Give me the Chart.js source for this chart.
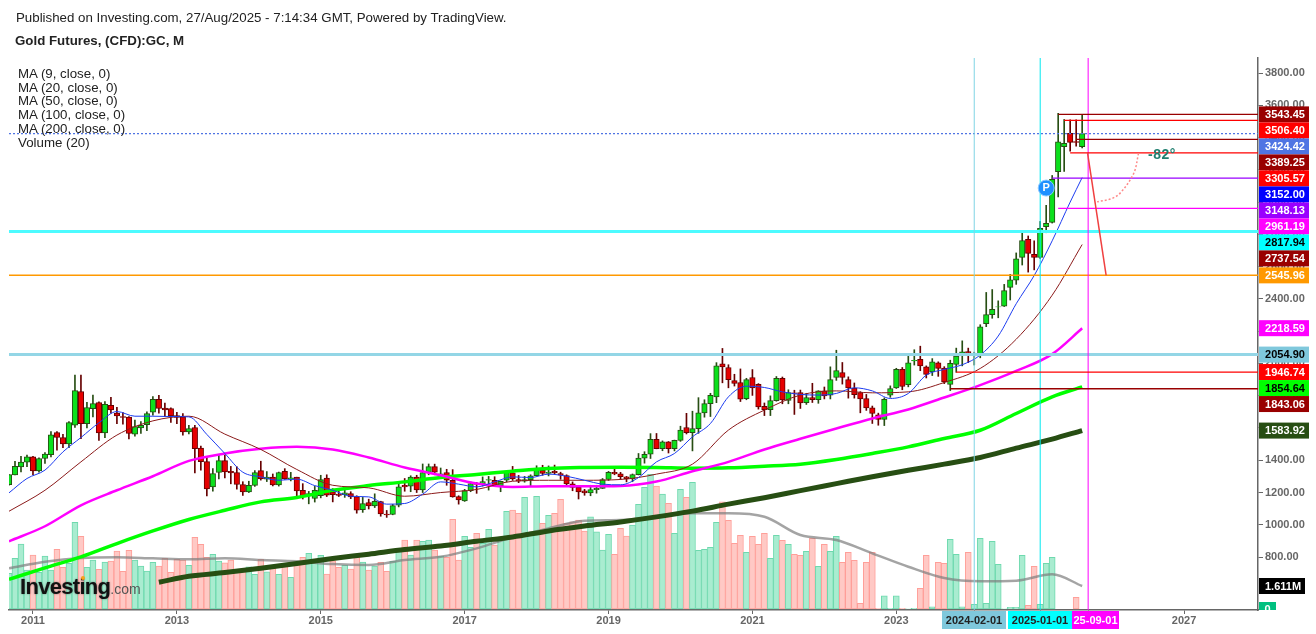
<!DOCTYPE html>
<html>
<head>
<meta charset="utf-8">
<title>Gold Futures</title>
<script src="https://cdn.jsdelivr.net/npm/chart.js@4"></script>
<style>
  body { margin: 0; background: #fff; font-family: "Liberation Sans", Arial, sans-serif; color: #222; }
  #wrap { position: relative; width: 1316px; height: 634px; overflow: hidden; }
  canvas { position: absolute; left: 0; top: 0; }
  .txt { position: absolute; white-space: nowrap; }
  #published { left: 16px; top: 10px; font-size: 13.3px; }
  #title { left: 15px; top: 33px; font-size: 13.3px; font-weight: bold; }
  .legend { left: 18px; font-size: 13.3px; line-height: 14px; }
  #logo { left: 20px; top: 574px; font-size: 22px; font-weight: bold; color: #111; letter-spacing: -0.7px; text-shadow: 0 0 2px rgba(0,0,0,0.45); }
  #logo span { font-size: 14px; font-weight: normal; color: #555; letter-spacing: 0; text-shadow: none; }
  #logo-dot { left: 81px; top: 576px; width: 4px; height: 4px; border-radius: 2px; background: #f7a21b; }
</style>
</head>
<body>
<div id="wrap">
  <canvas id="chart" width="1316" height="634"></canvas>
  <div class="txt" id="published">Published on Investing.com, 27/Aug/2025 - 7:14:34 GMT, Powered by TradingView.</div>
  <div class="txt" id="title">Gold Futures, (CFD):GC, M</div>
  <div class="txt legend" style="top:67px">MA (9, close, 0)</div>
  <div class="txt legend" style="top:81px">MA (20, close, 0)</div>
  <div class="txt legend" style="top:94px">MA (50, close, 0)</div>
  <div class="txt legend" style="top:108px">MA (100, close, 0)</div>
  <div class="txt legend" style="top:122px">MA (200, close, 0)</div>
  <div class="txt legend" style="top:136px">Volume (20)</div>
  <div class="txt" id="logo">Investing<span>.com</span></div>
  <div class="txt" id="logo-dot"></div>
</div>
<script>
// month index: 0 = 2011-01, one step = one month. first candle is 2010-09
const firstMonth = -4;

const opens = [
  1249, 1309, 1359, 1388, 1421, 1334, 1411, 1435, 1572, 1541, 1502, 1617,
  1826, 1626, 1719, 1758, 1570, 1740, 1692, 1671, 1667, 1561, 1601, 1621,
  1698, 1777, 1723, 1721, 1677, 1669, 1576, 1603, 1476, 1392, 1235, 1324,
  1398, 1332, 1324, 1250, 1204, 1244, 1336, 1283, 1295, 1247, 1332, 1285,
  1295, 1214, 1179, 1163, 1181, 1289, 1204, 1190, 1186, 1194, 1175, 1094,
  1138, 1117, 1144, 1066, 1064, 1121, 1244, 1239, 1295, 1216, 1324, 1361,
  1310, 1324, 1276, 1175, 1148, 1212, 1255, 1255, 1276, 1276, 1242, 1276,
  1322, 1280, 1271, 1280, 1305, 1338, 1318, 1332, 1318, 1305, 1254, 1232,
  1210, 1198, 1218, 1226, 1281, 1325, 1316, 1298, 1285, 1311, 1413, 1437,
  1529, 1472, 1514, 1472, 1523, 1603, 1571, 1596, 1694, 1751, 1793, 1998,
  1975, 1894, 1882, 1781, 1913, 1870, 1735, 1714, 1770, 1907, 1771, 1818,
  1820, 1757, 1789, 1776, 1830, 1804, 1913, 1944, 1900, 1848, 1820, 1783,
  1725, 1682, 1653, 1803, 1849, 1963, 1868, 2015, 2025, 1979, 1948, 2004,
  1971, 1870, 1994, 2050, 2074, 2052, 2055, 2247, 2303, 2350, 2355, 2471,
  2516, 2657, 2769, 2677, 2657, 2847, 2874, 3188, 3343, 3426, 3375, 3343
];
const highs = [
  1311, 1394, 1424, 1432, 1425, 1415, 1447, 1577, 1577, 1560, 1640, 1928,
  1928, 1759, 1804, 1762, 1764, 1790, 1728, 1695, 1670, 1649, 1640, 1700,
  1795, 1802, 1755, 1725, 1697, 1690, 1616, 1617, 1488, 1424, 1348, 1434,
  1434, 1362, 1360, 1267, 1270, 1336, 1394, 1330, 1315, 1327, 1348, 1325,
  1295, 1255, 1207, 1238, 1307, 1310, 1224, 1224, 1232, 1205, 1180, 1170,
  1159, 1192, 1146, 1089, 1127, 1263, 1287, 1304, 1307, 1377, 1377, 1376,
  1352, 1344, 1342, 1180, 1220, 1265, 1263, 1297, 1300, 1298, 1271, 1331,
  1362, 1306, 1300, 1310, 1366, 1369, 1365, 1370, 1326, 1310, 1266, 1237,
  1220, 1245, 1245, 1287, 1331, 1349, 1325, 1300, 1315, 1442, 1453, 1565,
  1566, 1520, 1516, 1525, 1611, 1691, 1704, 1788, 1775, 1815, 2005, 2093,
  1992, 1933, 1966, 1908, 1962, 1875, 1755, 1799, 1919, 1916, 1837, 1834,
  1835, 1815, 1877, 1831, 1854, 1979, 2082, 2006, 1917, 1879, 1825, 1808,
  1736, 1692, 1787, 1861, 1970, 1975, 2052, 2085, 2107, 1985, 2030, 2010,
  1980, 2020, 2095, 2140, 2095, 2070, 2240, 2440, 2458, 2388, 2490, 2552,
  2685, 2817, 2790, 2760, 2880, 2980, 3165, 3550, 3512, 3510, 3510, 3540
];
const lows = [
  1245, 1309, 1327, 1360, 1310, 1326, 1381, 1420, 1462, 1478, 1478, 1604,
  1534, 1600, 1668, 1523, 1540, 1692, 1627, 1624, 1532, 1549, 1566, 1584,
  1680, 1692, 1670, 1635, 1627, 1555, 1563, 1321, 1338, 1179, 1208, 1284,
  1291, 1254, 1221, 1182, 1200, 1238, 1277, 1268, 1241, 1240, 1282, 1272,
  1180, 1160, 1130, 1141, 1167, 1175, 1142, 1175, 1170, 1162, 1072, 1077,
  1098, 1107, 1053, 1046, 1062, 1111, 1208, 1205, 1200, 1200, 1310, 1310,
  1305, 1245, 1171, 1128, 1145, 1205, 1195, 1240, 1215, 1238, 1205, 1267,
  1275, 1261, 1264, 1238, 1303, 1307, 1303, 1316, 1282, 1238, 1211, 1160,
  1183, 1180, 1196, 1225, 1275, 1310, 1281, 1266, 1267, 1309, 1382, 1411,
  1471, 1459, 1445, 1458, 1517, 1563, 1458, 1567, 1667, 1671, 1757, 1880,
  1849, 1860, 1764, 1775, 1802, 1717, 1677, 1677, 1766, 1750, 1750, 1684,
  1721, 1746, 1758, 1753, 1780, 1780, 1895, 1872, 1785, 1785, 1694, 1709,
  1628, 1617, 1615, 1790, 1845, 1837, 1855, 1990, 1955, 1910, 1925, 1920,
  1875, 1832, 1945, 1985, 2005, 1990, 2035, 2228, 2280, 2283, 2353, 2393,
  2490, 2610, 2566, 2580, 2650, 2810, 2870, 3032, 3190, 3315, 3347, 3335
];
const closes = [
  1311, 1363, 1388, 1421, 1334, 1411, 1439, 1557, 1541, 1502, 1634, 1832,
  1626, 1727, 1752, 1570, 1746, 1712, 1675, 1665, 1566, 1609, 1617, 1690,
  1777, 1721, 1712, 1675, 1665, 1576, 1597, 1472, 1392, 1223, 1318, 1398,
  1328, 1322, 1250, 1204, 1245, 1324, 1285, 1296, 1247, 1324, 1285, 1291,
  1210, 1181, 1194, 1214, 1280, 1183, 1186, 1182, 1198, 1173, 1090, 1132,
  1117, 1146, 1068, 1062, 1119, 1235, 1235, 1295, 1216, 1324, 1361, 1326,
  1316, 1276, 1173, 1154, 1212, 1256, 1251, 1268, 1280, 1241, 1269, 1328,
  1284, 1271, 1280, 1303, 1345, 1318, 1327, 1322, 1308, 1254, 1232, 1204,
  1198, 1218, 1226, 1281, 1325, 1316, 1298, 1285, 1311, 1413, 1437, 1529,
  1472, 1514, 1472, 1523, 1587, 1571, 1596, 1694, 1751, 1803, 1986, 1978,
  1900, 1876, 1779, 1900, 1849, 1731, 1714, 1770, 1907, 1774, 1820, 1815,
  1756, 1789, 1776, 1830, 1799, 1900, 1956, 1913, 1848, 1807, 1780, 1725,
  1690, 1653, 1777, 1845, 1963, 1857, 2004, 2020, 1985, 1932, 2010, 1969,
  1886, 2000, 2045, 2072, 2062, 2057, 2227, 2303, 2335, 2351, 2452, 2518,
  2649, 2762, 2682, 2657, 2837, 2868, 3141, 3374, 3364, 3370, 3370, 3424
];
// volume in millions
const volumes = [
  2.50, 3.55, 4.55, 2.73, 3.78, 2.57, 3.71, 2.73, 4.18, 2.92, 3.20, 6.07,
  5.09, 2.92, 3.43, 2.78, 3.29, 3.36, 4.06, 2.64, 4.11, 3.43, 3.01, 2.66,
  3.27, 3.01, 3.55, 2.57, 3.48, 3.43, 3.06, 5.02, 4.53, 3.62, 3.83, 3.36,
  3.24, 3.43, 2.66, 2.73, 2.96, 2.43, 3.48, 2.61, 2.85, 2.43, 3.01, 2.22,
  3.08, 3.62, 3.90, 3.43, 3.76, 2.45, 3.38, 2.92, 3.06, 2.80, 3.62, 3.29,
  2.73, 3.01, 3.27, 2.64, 3.34, 4.25, 4.83, 3.78, 4.83, 4.74, 4.83, 4.13,
  3.71, 3.62, 6.28, 3.43, 5.09, 4.32, 5.30, 4.60, 5.58, 4.48, 4.83, 6.84,
  6.93, 6.70, 7.82, 5.18, 7.89, 6.00, 6.56, 6.70, 7.68, 6.00, 6.11, 6.23,
  5.46, 6.46, 5.41, 4.13, 5.23, 3.83, 5.65, 5.11, 5.88, 7.33, 8.52, 9.43,
  8.61, 8.05, 7.40, 5.30, 8.38, 7.82, 8.87, 4.11, 4.18, 4.32, 6.07, 7.51,
  6.21, 4.60, 5.16, 3.97, 5.09, 4.53, 5.30, 3.55, 5.16, 4.81, 4.53, 3.83,
  3.76, 4.04, 4.95, 2.99, 4.53, 4.04, 5.09, 3.27, 3.97, 3.41, 0.40, 3.27,
  3.97, 0.05, 0.93, 0.05, 0.93, 0.05, 0.02, 0.05, 1.45, 3.76, 0.16, 3.27,
  3.20, 4.88, 3.83, 0.16, 3.97, 0.33, 4.95, 0.40, 4.74, 3.13, 0.02, 0.12,
  0.12, 3.76, 0.26, 2.99, 0.33, 3.20, 3.62, 0, 0, 0, 0.82, 0
];

const fastMonths = [-4, -1, 2, 5, 8, 11, 14, 17, 20, 23, 26, 29, 32, 35, 38, 41, 44, 47, 50, 53, 56, 59, 62, 65, 68, 71, 74, 77, 80, 83, 86, 89, 92, 95, 98, 101, 104, 107, 110, 113, 116, 119, 122, 125, 128, 131, 134, 137, 140, 143, 146, 149, 152, 155, 158, 161, 164, 167, 170, 173, 175];
const ma9 = [1198, 1287, 1339, 1452, 1541, 1632, 1702, 1673, 1673, 1671, 1669, 1560, 1442, 1326, 1297, 1276, 1283, 1243, 1214, 1177, 1173, 1128, 1132, 1190, 1266, 1252, 1235, 1266, 1297, 1293, 1314, 1301, 1276, 1252, 1248, 1293, 1390, 1442, 1545, 1628, 1793, 1859, 1851, 1824, 1808, 1804, 1814, 1849, 1830, 1783, 1814, 1928, 1963, 1992, 2052, 2170, 2370, 2545, 2760, 3000, 3152];

const slowMonths = [-4, 2, 8, 14, 20, 26, 32, 38, 44, 50, 56, 62, 68, 74, 80, 86, 92, 98, 104, 110, 116, 122, 128, 134, 140, 146, 152, 158, 164, 170, 175];
const ma20 = [1084, 1214, 1390, 1556, 1644, 1673, 1562, 1467, 1343, 1245, 1229, 1177, 1200, 1219, 1270, 1276, 1276, 1281, 1314, 1376, 1587, 1711, 1804, 1830, 1818, 1824, 1882, 1969, 2150, 2423, 2737];
const ma50 = [898, 991, 1121, 1214, 1301, 1396, 1442, 1471, 1483, 1467, 1417, 1355, 1307, 1256, 1235, 1239, 1239, 1241, 1268, 1332, 1390, 1467, 1533, 1597, 1659, 1715, 1789, 1866, 1954, 2058, 2218];
const ma100 = [662, 733, 801, 884, 962, 1033, 1090, 1142, 1169, 1214, 1243, 1266, 1293, 1312, 1332, 1349, 1355, 1357, 1355, 1351, 1353, 1363, 1376, 1405, 1442, 1483, 1535, 1586, 1690, 1793, 1855];
const volumeMa = [2.85, 3.31, 3.57, 3.62, 3.55, 3.48, 3.55, 3.43, 3.34, 3.15, 3.08, 3.43, 3.66, 4.25, 5.02, 5.65, 6.18, 6.23, 6.46, 6.70, 6.70, 6.46, 5.18, 4.83, 3.90, 2.96, 2.17, 1.94, 1.98, 2.43, 1.61];

const ma200Months = [21, 26, 32, 38, 44, 50, 56, 62, 68, 74, 80, 86, 92, 98, 104, 110, 116, 122, 128, 134, 140, 146, 152, 158, 164, 170, 175];
const ma200 = [644, 681, 704, 731, 760, 791, 818, 847, 869, 898, 925, 962, 992, 1018, 1049, 1085, 1128, 1168, 1212, 1255, 1298, 1338, 1376, 1417, 1475, 1531, 1584];

const priceTicks = [800, 1000, 1200, 1400, 1600, 1800, 2000, 2200, 2400, 2600, 2800, 3000, 3200, 3400, 3600, 3800];
const yearMonths = [0, 24, 48, 72, 96, 120, 144, 192];
const yearLabels = ["2011", "2013", "2015", "2017", "2019", "2021", "2023", "2027"];
const dateMonths = [157, 168, 176];
const dateLabels = ["2024-02-01", "2025-01-01", "25-09-01"];

const tagValues = [3543.45, 3506.4, 3424.42, 3389.25, 3305.57, 3152.0, 3148.13, 2961.19, 2817.94, 2737.54, 2545.96, 2218.59, 2054.9, 1946.74, 1854.64, 1843.06, 1583.92];

// horizontal drawings: level and the month they start from
const fullLevels = [2817.94, 2545.96, 2054.9];
const shortLevels = [3543.45, 3506.4, 3389.25, 3305.57, 3148.13, 2961.19, 1946.74, 1843.06];
const shortStarts = [171, 172, 174, 173, 170, 171, 154, 153];

const trendMonths = [175.9, 179];
const trendValues = [3305.57, 2545.96];
const arcMonths = [184.4, 183.6, 181.3, 179.7, 177.5];
const arcValues = [3302, 3178, 3054, 3019, 3002];

const minMonth = -4;
const maxMonth = 204.33;
const minPrice = 472;
const maxPrice = 3893;

const tagColors = ["#990000", "#ff0000", "#4f74e3", "#990000", "#ff0000", "#0000ff", "#9900ff", "#ff00ff", "#00ffff", "#990000", "#ff9900", "#ff00ff", "#7fc8dc", "#ff0000", "#00ff00", "#990000", "#274e13"];
const tagTextColors = ["#fff", "#fff", "#fff", "#fff", "#fff", "#fff", "#fff", "#fff", "#000", "#fff", "#fff", "#fff", "#000", "#fff", "#000", "#fff", "#fff"];
const shortColors = ["#990000", "#ff0000", "#990000", "#ff0000", "#9900ff", "#ff00ff", "#ff0000", "#990000"];
const dateColors = ["#7fc8dc", "#00ffff", "#ff00ff"];
const dateTextColors = ["#222", "#222", "#fff"];

const monthOf = (i) => firstMonth + i;
const isUp = (i) => closes[i] >= opens[i];
const pairs = (xs, ys) => xs.map((x, i) => ({ x: x, y: ys[i] }));

function line(xs, ys, color, width, order, extra) {
  return Object.assign({
    type: "line",
    data: pairs(xs, ys),
    borderColor: color,
    borderWidth: width,
    pointRadius: 0,
    order: order,
  }, extra || {});
}

function maLine(xs, ys, color, width, order, yAxisID) {
  return line(xs, ys, color, width, order, {
    cubicInterpolationMode: "monotone",
    yAxisID: yAxisID || "y",
  });
}

const datasets = [
  // volume pane
  {
    yAxisID: "vol",
    data: volumes.map((v, i) => ({ x: monthOf(i), y: v })),
    backgroundColor: volumes.map((v, i) => (isUp(i) ? "#a9ecd0" : "#ffc9c5")),
    borderColor: volumes.map((v, i) => (isUp(i) ? "#6ed9ae" : "#ff9f99")),
    borderWidth: 1,
    borderSkipped: false,
    barThickness: 6,
    order: 20,
  },
  maLine(slowMonths, volumeMa, "rgba(125,125,125,0.7)", 2.5, 19, "vol"),
  // candles, wick first then body
  {
    data: highs.map((h, i) => ({ x: monthOf(i), y: [lows[i], h] })),
    backgroundColor: highs.map((h, i) => (isUp(i) ? "#274e13" : "#660000")),
    barThickness: 1,
    order: 18,
  },
  {
    data: opens.map((o, i) => ({ x: monthOf(i), y: [o, closes[i]] })),
    backgroundColor: opens.map((o, i) => (isUp(i) ? "#0be01c" : "#e60000")),
    borderColor: opens.map((o, i) => (isUp(i) ? "#274e13" : "#660000")),
    borderWidth: 1,
    borderSkipped: false,
    barThickness: 5.5,
    order: 17,
  },
  maLine(ma200Months, ma200, "#274e13", 5, 16),
  maLine(slowMonths, ma100, "#00ff00", 3.5, 15),
  maLine(slowMonths, ma50, "#ff00ff", 2.5, 14),
  maLine(slowMonths, ma20, "#8b1a1a", 1, 13),
  maLine(fastMonths, ma9, "#1c3cf0", 1, 12),
  // drawings
  line([minMonth, maxMonth], [fullLevels[0], fullLevels[0]], "#4dfbff", 3, 11),
  line([minMonth, maxMonth], [fullLevels[1], fullLevels[1]], "#ff9900", 1.5, 11),
  line([minMonth, maxMonth], [fullLevels[2], fullLevels[2]], "#93d6e6", 3, 11),
  line([minMonth, maxMonth], [tagValues[2], tagValues[2]], "#4f74e3", 1.2, 11, { borderDash: [2, 2] }),
  line([dateMonths[0], dateMonths[0]], [minPrice, maxPrice], "#7fd4e4", 1, 10),
  line([dateMonths[1], dateMonths[1]], [minPrice, maxPrice], "#00e8f0", 1, 10),
  line([dateMonths[2], dateMonths[2]], [minPrice, maxPrice], "#ff00ff", 1, 10),
  line(trendMonths, trendValues, "#f04040", 1.5, 3),
  line(arcMonths, arcValues, "#ff8a8a", 1.5, 3, { borderDash: [2, 2], tension: 0.35 }),
  { // the "P" mark
    type: "line",
    data: [{ x: 169, y: 3087 }],
    showLine: false,
    pointRadius: 8,
    pointBackgroundColor: "#1e90ff",
    pointBorderColor: "#8cc8ff",
    pointBorderWidth: 1,
    order: 1,
  },
];

shortLevels.forEach((level, i) => {
  datasets.push(line([shortStarts[i], maxMonth], [level, level], shortColors[i], 1.3, 4));
});

// price tags, date tags and the small texts on the plot
const tagsPlugin = {
  id: "tags",
  afterDraw(chart) {
    const ctx = chart.ctx;
    const y = chart.scales.y;
    const x = chart.scales.x;
    const area = chart.chartArea;
    const left = area.right + 1;

    ctx.save();
    ctx.textBaseline = "middle";

    ctx.font = "bold 14px 'Liberation Sans'";
    ctx.letterSpacing = "0.5px";
    ctx.fillStyle = "#1f7f6f";
    ctx.textAlign = "left";
    ctx.fillText("-82°", x.getPixelForValue(186), y.getPixelForValue(3294));
    ctx.letterSpacing = "0px";

    ctx.font = "bold 11px 'Liberation Sans'";
    ctx.fillStyle = "#fff";
    ctx.textAlign = "center";
    ctx.fillText("P", x.getPixelForValue(169), y.getPixelForValue(3087));

    // tags get pushed down when they would overlap
    let prev = -100;
    tagValues.forEach((value, i) => {
      const py = Math.max(y.getPixelForValue(value), prev + 16);
      prev = py;
      ctx.fillStyle = tagColors[i];
      ctx.fillRect(left, py - 8, 50, 16);
      ctx.fillStyle = tagTextColors[i];
      ctx.fillText(value.toFixed(2), left + 26, py + 0.5);
    });

    const volY = chart.scales.vol;
    const maPy = volY.getPixelForValue(1.611);
    ctx.fillStyle = "#000";
    ctx.fillRect(left, maPy - 8, 46, 16);
    ctx.fillStyle = "#fff";
    ctx.fillText("1.611M", left + 24, maPy + 0.5);

    ctx.save();
    ctx.beginPath();
    ctx.rect(left, area.top, 60, area.bottom - area.top);
    ctx.clip();
    ctx.fillStyle = "#00c07f";
    ctx.fillRect(left, area.bottom - 8, 17, 16);
    ctx.fillStyle = "#fff";
    ctx.fillText("0", left + 8.5, area.bottom);
    ctx.restore();

    const dateWidths = [64, 64, 47];
    const dateLefts = [942, 1008, 1072];
    dateMonths.forEach((m, i) => {
      ctx.fillStyle = dateColors[i];
      ctx.fillRect(dateLefts[i], area.bottom + 1, dateWidths[i], 18);
      ctx.fillStyle = dateTextColors[i];
      ctx.fillText(dateLabels[i], dateLefts[i] + dateWidths[i] / 2, area.bottom + 10.5);
    });
    ctx.restore();
  },
};

const axisFont = { family: "Liberation Sans", size: 11, weight: "bold" };

new Chart(document.getElementById("chart"), {
  type: "bar",
  data: { datasets: datasets },
  plugins: [tagsPlugin],
  options: {
    responsive: false,
    animation: false,
    events: [],
    layout: { padding: { top: 58, left: 8, right: 0, bottom: 0 } },
    datasets: { bar: { grouped: false } },
    plugins: { legend: { display: false }, tooltip: { enabled: false } },
    scales: {
      x: {
        type: "linear",
        offset: false,
        min: minMonth,
        max: maxMonth,
        afterFit(scale) {
          scale.height = 24;
        },
        afterBuildTicks(scale) {
          scale.ticks = yearMonths.concat(dateMonths).map((m) => ({ value: m }));
        },
        grid: { offset: false, drawOnChartArea: false, tickLength: 4, color: "#666" },
        border: { color: "#666", width: 1.5 },
        ticks: {
          autoSkip: false,
          maxRotation: 0,
          color: "#666",
          font: axisFont,
          padding: 0,
          callback(value) {
            const i = yearMonths.indexOf(value);
            return i >= 0 ? yearLabels[i] : "";
          },
        },
      },
      y: {
        position: "right",
        min: minPrice,
        max: maxPrice,
        afterFit(scale) {
          scale.width = 58;
        },
        afterBuildTicks(scale) {
          scale.ticks = priceTicks.map((v) => ({ value: v }));
        },
        grid: { drawOnChartArea: false, tickLength: 5, color: "#666" },
        border: { color: "#666", width: 1.5 },
        ticks: {
          color: "#666",
          font: axisFont,
          padding: 2,
          callback(value) {
            return value.toFixed(2);
          },
        },
      },
      vol: {
        display: false,
        min: -0.07,
        max: 38.6,
      },
    },
  },
});
</script>
</body>
</html>
